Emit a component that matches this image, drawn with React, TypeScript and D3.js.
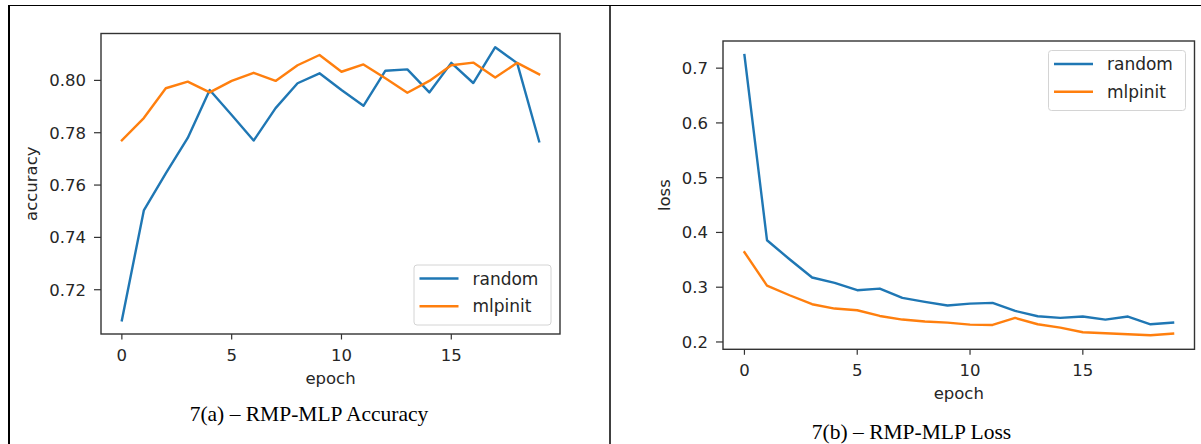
import * as d3 from "d3";

// epochs on the x axis
const epochs = [0, 1, 2, 3, 4, 5, 6, 7, 8, 9, 10, 11, 12, 13, 14, 15, 16, 17, 18, 19];

// 7(a) accuracy
const accRandom = [
  0.7083, 0.7503, 0.7645, 0.778, 0.7963, 0.7868, 0.777, 0.7894, 0.7989, 0.8027,
  0.7963, 0.7903, 0.8037, 0.8042, 0.7954, 0.8067, 0.799, 0.8127, 0.8066, 0.7767,
];
const accMlpinit = [
  0.7771, 0.7856, 0.797, 0.7995, 0.7954, 0.7998, 0.8029, 0.7998, 0.8058, 0.8097,
  0.8033, 0.8061, 0.8008, 0.7953, 0.7998, 0.8058, 0.8068, 0.8011, 0.8067, 0.8023,
];

// 7(b) loss
const lossRandom = [
  0.724, 0.3858, 0.351, 0.3177, 0.3078, 0.2945, 0.2975, 0.2804, 0.2731, 0.2665,
  0.2701, 0.2713, 0.2567, 0.247, 0.2439, 0.2464, 0.2409, 0.2464, 0.2323, 0.2354,
];
const lossMlpinit = [
  0.3639, 0.303, 0.2853, 0.2689, 0.261, 0.2579, 0.2475, 0.2409, 0.2373, 0.2354,
  0.2317, 0.2311, 0.2439, 0.2323, 0.2262, 0.2177, 0.2159, 0.2141, 0.2122, 0.2153,
];

const seriesNames = ["random", "mlpinit"];
const seriesColors = ["#1f77b4", "#ff7f0e"];

const epochTicks = [0, 5, 10, 15];
const accTicks = [0.72, 0.74, 0.76, 0.78, 0.8];
const lossTicks = [0.2, 0.3, 0.4, 0.5, 0.6, 0.7];

const SANS = "DejaVu Sans";
const TEXT = "#262626";
const SPINE = "#333";

// matplotlib style 5% padding on the data extent
function padded(values: number[]): [number, number] {
  const [lo, hi] = d3.extent(values) as [number, number];
  const m = (hi - lo) * 0.05;
  return [lo - m, hi + m];
}

type PanelProps = {
  left: number;
  top: number;
  right: number;
  bottom: number;
  series: number[][];
  yTicks: number[];
  yFormat: string;
  yLabel: string;
  yLabelX: number;
  legendAt: "lower" | "upper";
  caption: string;
  captionX: number;
  captionY: number;
};

function Panel(p: PanelProps) {
  const x = d3
    .scaleLinear()
    .domain(padded(epochs))
    .range([p.left, p.right]);
  const y = d3
    .scaleLinear()
    .domain(padded(p.series.flat()))
    .range([p.bottom, p.top]);

  const path = d3
    .line<number>()
    .x((_, i) => x(epochs[i]))
    .y((d) => y(d));

  const fmt = d3.format(p.yFormat);

  // legend box sits 9px inside the axes corner
  const lw = 137;
  const lh = 60;
  const lx = p.right - 9 - lw;
  const ly = p.legendAt === "lower" ? p.bottom - 9 - lh : p.top + 9.5;

  return (
    <g>
      {p.series.map((s, i) => (
        <path
          key={seriesNames[i]}
          d={path(s) ?? ""}
          fill="none"
          stroke={seriesColors[i]}
          strokeWidth={2.4}
          strokeLinejoin="round"
          strokeLinecap="square"
        />
      ))}

      <rect
        x={p.left}
        y={p.top}
        width={p.right - p.left}
        height={p.bottom - p.top}
        fill="none"
        stroke={SPINE}
        strokeWidth={1.4}
      />

      {/* x ticks */}
      {epochTicks.map((t) => (
        <g key={"x" + t}>
          <line
            x1={x(t)}
            x2={x(t)}
            y1={p.bottom}
            y2={p.bottom + 5.5}
            stroke={SPINE}
            strokeWidth={1.2}
          />
          <text
            x={x(t)}
            y={p.bottom + 27}
            textAnchor="middle"
            fontFamily={SANS}
            fontSize={16.5}
            fill={TEXT}
          >
            {t}
          </text>
        </g>
      ))}

      {/* y ticks */}
      {p.yTicks.map((t) => (
        <g key={"y" + t}>
          <line
            x1={p.left - 7}
            x2={p.left}
            y1={y(t)}
            y2={y(t)}
            stroke={SPINE}
            strokeWidth={1.2}
          />
          <text
            x={p.left - 15}
            y={y(t)}
            dy="0.36em"
            textAnchor="end"
            fontFamily={SANS}
            fontSize={16.5}
            fill={TEXT}
          >
            {fmt(t)}
          </text>
        </g>
      ))}

      <text
        x={(p.left + p.right) / 2}
        y={p.bottom + 50}
        textAnchor="middle"
        fontFamily={SANS}
        fontSize={16.5}
        fill={TEXT}
      >
        epoch
      </text>
      <text
        transform={`translate(${p.yLabelX},${(p.top + p.bottom) / 2}) rotate(-90)`}
        textAnchor="middle"
        fontFamily={SANS}
        fontSize={16.5}
        fill={TEXT}
      >
        {p.yLabel}
      </text>

      {/* legend */}
      <rect
        x={lx}
        y={ly}
        width={lw}
        height={lh}
        rx={3}
        fill="#fff"
        fillOpacity={0.85}
        stroke="#d4d4d4"
        strokeWidth={1}
      />
      {seriesNames.map((name, i) => (
        <g key={name}>
          <line
            x1={lx + 5.5}
            x2={lx + 44.5}
            y1={ly + 13.5 + i * 27.7}
            y2={ly + 13.5 + i * 27.7}
            stroke={seriesColors[i]}
            strokeWidth={2.4}
          />
          <text
            x={lx + 58.5}
            y={ly + 13.5 + i * 27.7}
            dy="0.36em"
            fontFamily={SANS}
            fontSize={17}
            fill={TEXT}
          >
            {name}
          </text>
        </g>
      ))}

      <text
        x={p.captionX}
        y={p.captionY}
        textAnchor="middle"
        fontFamily="Liberation Serif"
        fontSize={21.5}
        fill="#000"
      >
        {p.caption}
      </text>
    </g>
  );
}

export default function App() {
  return (
    <svg
      width={1201}
      height={444}
      style={{ position: "absolute", left: 0, top: 0, background: "#fff" }}
    >
      <rect width={1201} height={444} fill="#fff" />

      {/* table borders */}
      <line x1={8} x2={1201} y1={5.5} y2={5.5} stroke="#000" strokeWidth={1} />
      <line x1={9} x2={9} y1={5} y2={444} stroke="#000" strokeWidth={2} />
      <line x1={610} x2={610} y1={5} y2={444} stroke="#000" strokeWidth={1.5} />

      <Panel
        left={101}
        top={33.5}
        right={560}
        bottom={334}
        series={[accRandom, accMlpinit]}
        yTicks={accTicks}
        yFormat=".2f"
        yLabel="accuracy"
        yLabelX={37}
        legendAt="lower"
        caption="7(a) – RMP-MLP Accuracy"
        captionX={309}
        captionY={421}
      />
      <Panel
        left={723}
        top={41}
        right={1194.5}
        bottom={349.3}
        series={[lossRandom, lossMlpinit]}
        yTicks={lossTicks}
        yFormat=".1f"
        yLabel="loss"
        yLabelX={669.5}
        legendAt="upper"
        caption="7(b) – RMP-MLP Loss"
        captionX={911.5}
        captionY={439}
      />
    </svg>
  );
}
